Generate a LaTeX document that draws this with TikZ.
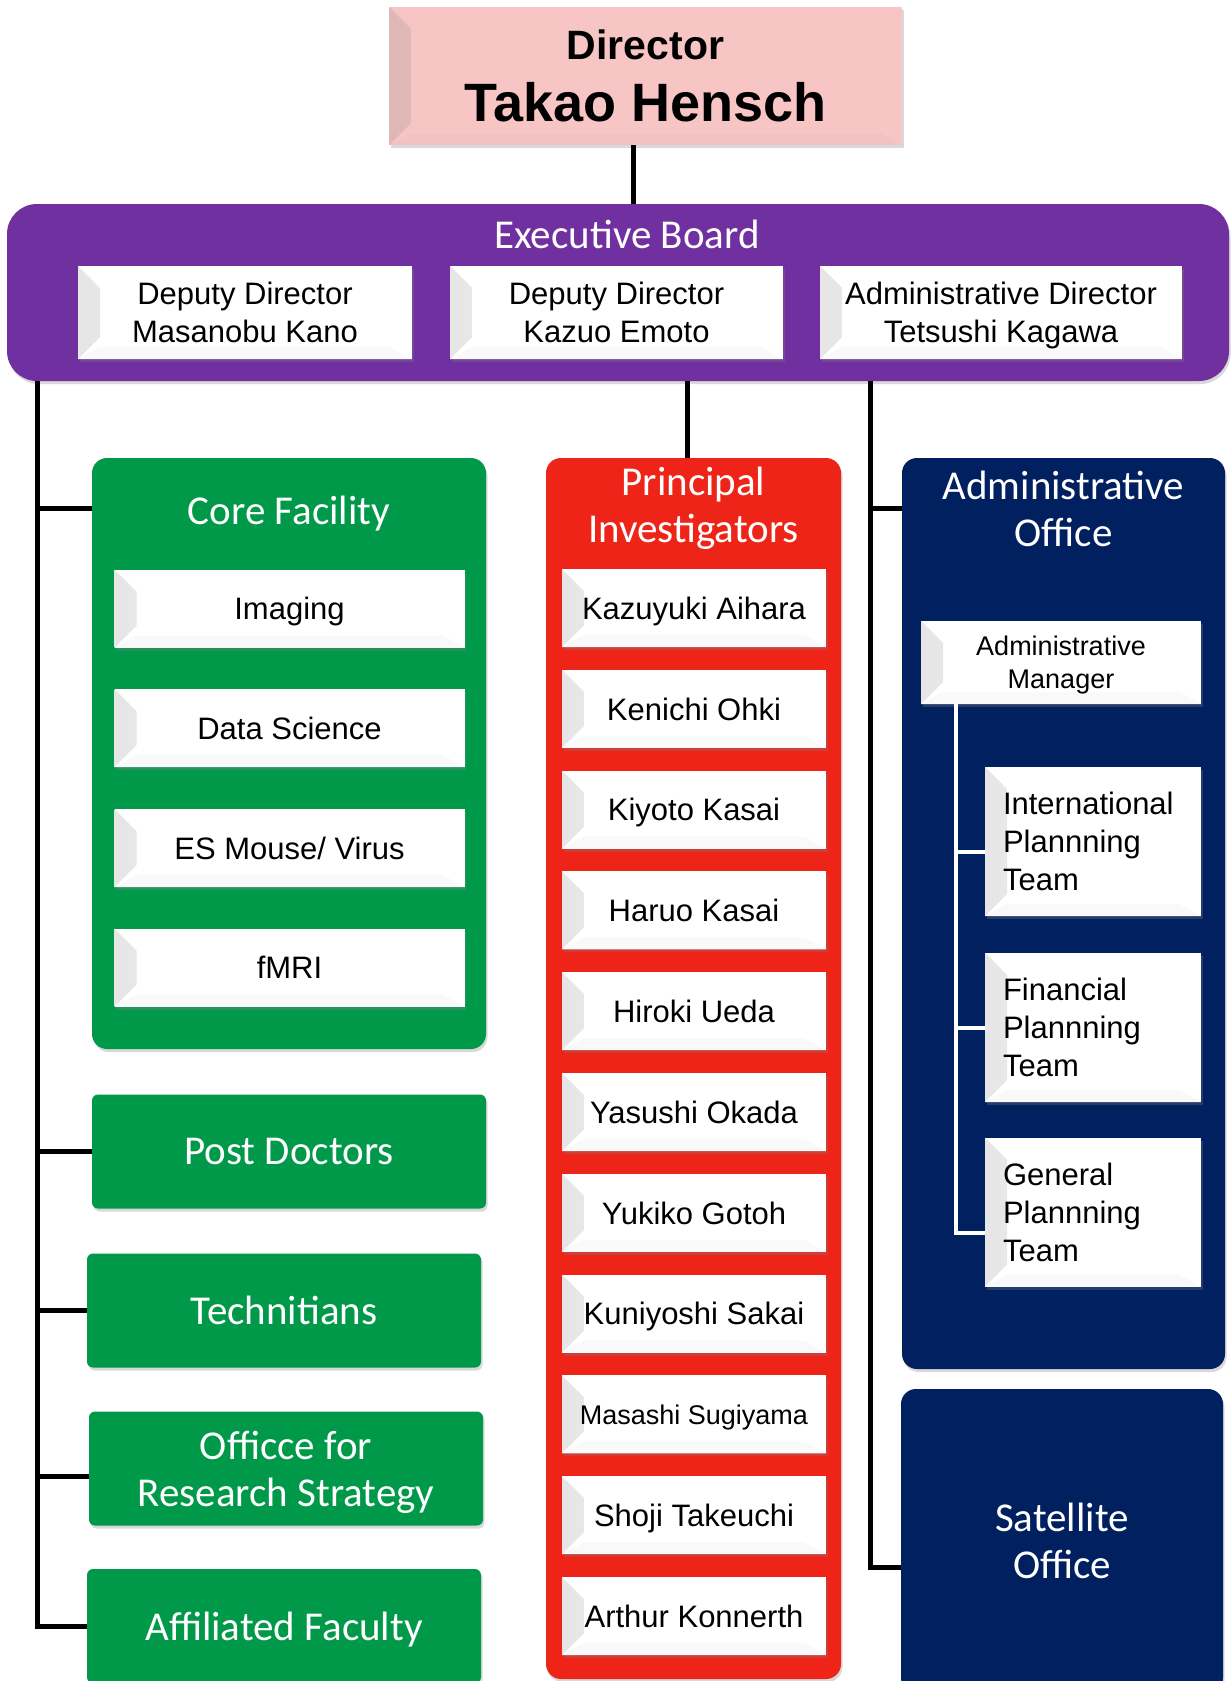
\documentclass[tikz,border=0pt]{standalone}
\usepackage{fontspec}
\setmainfont{Liberation Sans}
\newfontfamily\calibri{Carlito}
\usepackage{xcolor}
\usepackage{tikz}
\usetikzlibrary{shadows}
\usetikzlibrary{positioning}
\usetikzlibrary{calc}

\definecolor{boardpurple}{HTML}{7030A0}
\definecolor{coregreen}{HTML}{00994A}
\definecolor{pired}{HTML}{EE2419}
\definecolor{adminnavy}{HTML}{002060}
\definecolor{chiefpink}{HTML}{F7C5C4}

\tikzset{
  bevel/.style={path picture={
    \shade[left color=#1!80!gray, right color=#1]
      (path picture bounding box.north west)
      -- ([shift={(22pt,-22pt)}]path picture bounding box.north west)
      -- ([shift={(22pt,22pt)}]path picture bounding box.south west)
      -- (path picture bounding box.south west) -- cycle;
    \fill[#1!95!gray]
      (path picture bounding box.south west)
      -- ([shift={(22pt,12pt)}]path picture bounding box.south west)
      -- ([shift={(-22pt,12pt)}]path picture bounding box.south east)
      -- (path picture bounding box.south east) -- cycle;
  }},
  softshadow/.style={drop shadow={opacity=0.3,shadow xshift=1.5pt,shadow yshift=-3pt}},
  whitebox/.style={fill=white, bevel=white, softshadow, align=center, inner sep=0pt,
    text depth=0pt, font=\fontsize{31}{38}\selectfont},
  teambox/.style={whitebox, align=left, text width=180pt, inner xsep=18pt,
    text depth={}, minimum height=149pt},
  unit/.style={fill=#1, rounded corners=15pt, softshadow, text=white, align=center,
    inner sep=0pt, text depth=0pt, font=\calibri\fontsize{41}{47}\selectfont},
  title/.style={anchor=center, text=white, align=center, text depth=0pt,
    font=\calibri\fontsize{41}{47}\selectfont},
  conn/.style={draw=black, line width=5pt},
  wline/.style={draw=white, line width=4pt}
}

\begin{document}
\begin{tikzpicture}[x=1pt,y=-1pt]
    \path[use as bounding box] (0,0) rectangle (1231,1681);
    \clip (0,0) rectangle (1231,1681);

    % top of the tree
    \node (director) at (645.5,76) [whitebox, fill=chiefpink, bevel=chiefpink,
      minimum width=513pt, minimum height=138pt,
      font=\bfseries\fontsize{54}{62}\selectfont]
      {{\fontsize{41}{45}\selectfont Director}\\Takao Hensch};
    \node (board) at (618,292.5) [unit=boardpurple, rounded corners=30pt,
      minimum width=1222pt, minimum height=177pt,
      label={[title, xshift=9pt, yshift=-30pt]north:Executive Board}] {};
    \node (deputyA) at (245,312.5) [whitebox, minimum width=334pt, minimum height=93pt]
      {Deputy Director\\Masanobu Kano};
    \node (deputyB) at (616.5,312.5) [whitebox, minimum width=333pt, minimum height=93pt]
      {Deputy Director\\Kazuo Emoto};
    \node (admindir) at (1001,312.5) [whitebox, minimum width=362pt, minimum height=93pt]
      {Administrative Director\\Tetsushi Kagawa};

    % left column
    \node (core) at (289,753.5) [unit=coregreen, minimum width=394pt, minimum height=591pt,
      label={[title, yshift=-52pt]north:Core Facility}] {};
    \begin{scope}[every node/.style={whitebox, minimum width=350pt, minimum height=78pt}]
    \node (imaging) at (289.5,608.5) {Imaging};
    \node (datasci) at (289.5,728) {Data Science};
    \node (esmouse) at (289.5,848) {ES Mouse/ Virus};
    \node (fmri) at (289.5,967.5) {fMRI};
    \end{scope}
    \begin{scope}[every node/.style={unit=coregreen, rounded corners=6pt,
      minimum width=394pt, minimum height=114pt}]
    \node (postdoc) at (289,1151.5) {Post Doctors};
    \node (technitians) at (284,1310.5) {Technitians};
    \node (strategy) at (286,1468.5) {Officce for\\Research Strategy};
    \node (affiliated) at (284,1626) {Affiliated Faculty};
    \end{scope}

    % principal investigators
    \node (pi) at (693.5,1068.5) [unit=pired, minimum width=295pt, minimum height=1221pt,
      label={[title, yshift=-46.5pt]north:{Principal\\Investigators}}] {};
    \begin{scope}[every node/.style={whitebox, minimum width=264pt, minimum height=78pt}]
    \node (aihara) at (694,608) {Kazuyuki Aihara};
    \node (ohki) at (694,708.8) {Kenichi Ohki};
    \node (kkasai) at (694,809.6) {Kiyoto Kasai};
    \node (hkasai) at (694,910.4) {Haruo Kasai};
    \node (ueda) at (694,1011.2) {Hiroki Ueda};
    \node (okada) at (694,1112) {Yasushi Okada};
    \node (gotoh) at (694,1212.8) {Yukiko Gotoh};
    \node (sakai) at (694,1313.6) {Kuniyoshi Sakai};
    \node (sugiyama) at (694,1414.4) [font=\fontsize{27}{33}\selectfont] {Masashi Sugiyama};
    \node (takeuchi) at (694,1515.2) {Shoji Takeuchi};
    \node (konnerth) at (694,1616) {Arthur Konnerth};
    \end{scope}

    % right column
    \node (office) at (1063.5,913.5) [unit=adminnavy, minimum width=323pt, minimum height=911pt,
      label={[title, yshift=-51pt]north:{Administrative\\Office}}] {};
    \node (manager) at (1061,662.5) [whitebox, minimum width=280pt, minimum height=83pt,
      font=\fontsize{27}{33}\selectfont] {Administrative\\Manager};
    \node (intl) at (1093,841.5) [teambox] {International\\Plannning\\Team};
    \node (finance) at (1093,1027.5) [teambox] {Financial\\Plannning\\Team};
    \node (general) at (1093,1212) [teambox] {General\\Plannning\\Team};
    \node (satellite) at (1062,1541) [unit=adminnavy, minimum width=322pt, minimum height=304pt]
      {Satellite\\Office};

    % connectors
    \coordinate (trunkL) at (37,0);
    \coordinate (trunkM) at (687,0);
    \coordinate (trunkR) at (870,0);
    \coordinate (teamline) at (956,0);
    \coordinate (stem) at ([xshift=-12pt]director.south);
    \coordinate (corearm) at ([yshift=-51pt]core.north west);
    \coordinate (strategyarm) at ([yshift=-8pt]strategy.west);
    \coordinate (officearm) at ([yshift=-51pt]office.north west);
    \coordinate (satarm) at ([yshift=-26pt]satellite.west);
    \coordinate (intlarm) at ([yshift=-10pt]intl.west);
    \coordinate (generalarm) at ([yshift=-21pt]general.west);

    \draw[conn] (stem) -- (stem |- board.north);
    \draw[conn] (board.south -| trunkL) |- (affiliated.west);
    \draw[conn] (corearm) -- (corearm -| trunkL);
    \draw[conn] (postdoc.west) -- (postdoc.west -| trunkL);
    \draw[conn] (technitians.west) -- (technitians.west -| trunkL);
    \draw[conn] (strategyarm) -- (strategyarm -| trunkL);
    \draw[conn] (board.south -| trunkM) -- (pi.north -| trunkM);
    \draw[conn] (board.south -| trunkR) |- (satarm);
    \draw[conn] (officearm) -- (officearm -| trunkR);

    \draw[wline] (manager.south -| teamline) |- (generalarm);
    \draw[wline] (intlarm) -- (intlarm -| teamline);
    \draw[wline] (finance.west) -- (finance.west -| teamline);
\end{tikzpicture}
\end{document}
